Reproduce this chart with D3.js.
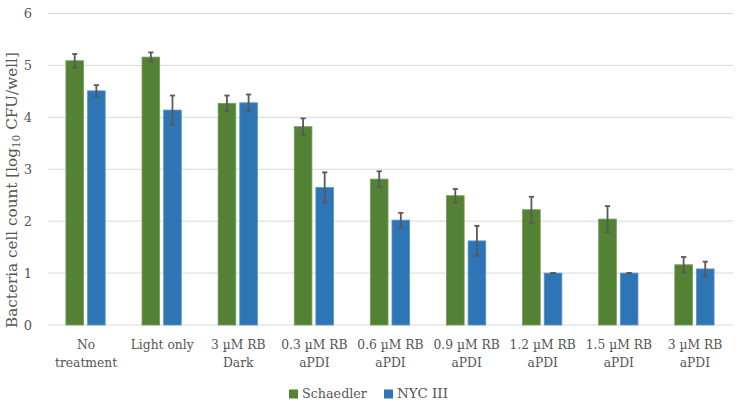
<!DOCTYPE html>
<html><head><meta charset="utf-8">
<script src="https://cdn.jsdelivr.net/npm/d3@7"></script>
<style>body{margin:0;background:#fff}svg{display:block}</style>
</head><body>
<svg id="c" width="741" height="403"></svg>
<script>
const categories = [["No","treatment"],["Light only"],["3 µM RB","Dark"],["0.3 µM RB","aPDI"],["0.6 µM RB","aPDI"],["0.9 µM RB","aPDI"],["1.2 µM RB","aPDI"],["1.5 µM RB","aPDI"],["3 µM RB","aPDI"]];
const seriesNames = ["Schaedler","NYC III"];
const schaedler = [5.09,5.16,4.27,3.82,2.81,2.49,2.22,2.04,1.16];
const schaedlerErr = [0.13,0.09,0.15,0.16,0.15,0.13,0.25,0.25,0.15];
const nyc = [4.51,4.14,4.28,2.65,2.02,1.62,1.00,1.00,1.08];
const nycErr = [0.11,0.28,0.16,0.29,0.14,0.29,0.0,0.0,0.14];
const yTicks = [0,1,2,3,4,5,6];

const colors = ["#548235","#2e75b6"];
const font = "'DejaVu Serif', serif";
const textColor = "#555555";
const svg = d3.select("#c");
const m = {l:48,r:8,t:13.5,b:78};
const W=741,H=403;
const x = d3.scaleBand().domain(d3.range(categories.length)).range([m.l, W-m.r]);
const y = d3.scaleLinear().domain([0,6]).range([H-m.b, m.t]);

function fitSize(sel, target){
  const w = sel.node().getComputedTextLength();
  const fs = parseFloat(sel.attr("font-size"));
  return fs*target/w;
}

// gridlines
svg.append("g").selectAll("line").data(yTicks).join("line")
  .attr("x1",m.l).attr("x2",W-m.r).attr("y1",d=>y(d)).attr("y2",d=>y(d))
  .attr("stroke","#d9d9d9").attr("stroke-width",1);

// y tick labels
svg.append("g").selectAll("text").data(yTicks).join("text")
  .attr("x",32).attr("y",d=>y(d)).attr("dy","0.35em").attr("text-anchor","end")
  .attr("font-family",font).attr("font-size",13).attr("fill",textColor).text(d=>d);

const bw = x.bandwidth();
const barW = bw*0.232, gap = bw*0.052;
const series = [{v:schaedler,e:schaedlerErr},{v:nyc,e:nycErr}];
series.forEach((s,si)=>{
  const off = si===0 ? -gap/2-barW-0.5 : gap/2-0.5;
  const g = svg.append("g");
  g.selectAll("rect").data(s.v).join("rect")
    .attr("x",(d,i)=>x(i)+bw/2+off).attr("width",barW)
    .attr("y",d=>y(d)).attr("height",d=>y(0)-y(d))
    .attr("fill",colors[si]).attr("stroke",si===0?"#719c55":"#5b94c9").attr("stroke-width",0.8);
  const eg = svg.append("g").attr("stroke","#595959").attr("stroke-width",1.8);
  s.v.forEach((d,i)=>{
    const cx = x(i)+bw/2+off+barW/2;
    const e = s.e[i];
    eg.append("line").attr("x1",cx).attr("x2",cx).attr("y1",y(d+e)).attr("y2",y(d-e));
    eg.append("line").attr("x1",cx-2.6).attr("x2",cx+2.6).attr("y1",y(d+e)).attr("y2",y(d+e));
    eg.append("line").attr("x1",cx-2.6).attr("x2",cx+2.6).attr("y1",y(d-e)).attr("y2",y(d-e));
  });
});

// x labels
const xl = svg.append("g").attr("font-family",font).attr("fill",textColor);
const probe = xl.append("text").attr("font-size",13).text("Light only");
const xfs = fitSize(probe, 63);
probe.remove();
categories.forEach((c,i)=>{
  const t = xl.append("text").attr("text-anchor","middle").attr("font-size",xfs);
  c.forEach((line,j)=>{
    t.append("tspan").attr("x",x(i)+bw/2).attr("y",349+j*18).text(line);
  });
});

// y title
const yt = svg.append("text").attr("transform","translate(16.5,190) rotate(-90)")
  .attr("text-anchor","middle").attr("font-family",font).attr("font-size",13)
  .attr("fill",textColor);
yt.append("tspan").text("Bacteria cell count [log");
yt.append("tspan").attr("font-size",9).attr("dy",3).text("10");
yt.append("tspan").attr("dy",-3).text(" CFU/well]");
{
  const w = yt.node().getComputedTextLength();
  const k = 276/w;
  yt.attr("font-size",13*k);
  yt.select("tspan:nth-child(2)").attr("font-size",9*k);
}

// legend
const lg = svg.append("g").attr("font-family",font).attr("fill",textColor);
const lx = [289,384];
const lw = [65,51];
seriesNames.forEach((n,i)=>{
  lg.append("rect").attr("x",lx[i]).attr("y",389.5).attr("width",9).attr("height",9).attr("fill",colors[i]);
  const t = lg.append("text").attr("x",lx[i]+13).attr("y",398).attr("font-size",13).text(n);
  t.attr("font-size", fitSize(t, lw[i]));
});
</script>
</body></html>
